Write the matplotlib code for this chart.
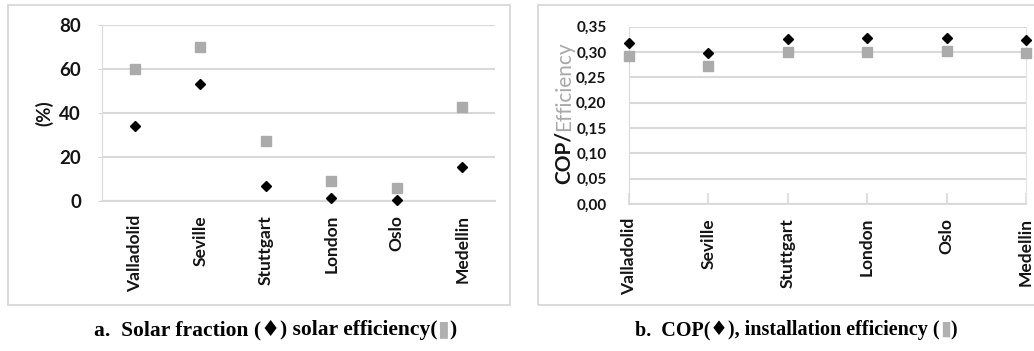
import matplotlib
matplotlib.use("Agg")
import matplotlib.pyplot as plt
from matplotlib.patches import Rectangle
from matplotlib.offsetbox import TextArea, HPacker, VPacker, AnchoredOffsetbox

cities = ["Valladolid", "Seville", "Stuttgart", "London", "Oslo", "Medellin"]
solar_fraction = [34, 53, 7, 1.2, 0.5, 15.6]
solar_efficiency = [60, 70, 27.5, 9, 5.8, 42.8]
cop = [0.318, 0.298, 0.326, 0.327, 0.327, 0.323]
install_eff = [0.292, 0.273, 0.300, 0.300, 0.302, 0.298]
left_yticks = [0, 20, 40, 60, 80]
right_yticks = [0.00, 0.05, 0.10, 0.15, 0.20, 0.25, 0.30, 0.35]

W, H = 1034, 351
fig = plt.figure(figsize=(W / 100, H / 100), dpi=100)
fig.patch.set_facecolor("white")

FONT = "Lato"
TXT = "#141414"
GRID = "#d9d9d9"
SQ = "#ababab"

def fx(px):
    return px / W

def fy(py):
    return 1 - py / H

# panel frames
fig.patches.append(Rectangle((fx(8), fy(305)), fx(510) - fx(8), fy(5) - fy(305),
                             transform=fig.transFigure, fill=False, ec="#d4d4d4", lw=1.2))
fig.patches.append(Rectangle((fx(538), fy(305)), fx(1040) - fx(538), fy(5) - fy(305),
                             transform=fig.transFigure, fill=False, ec="#d4d4d4", lw=1.2, clip_on=False))

x = list(range(len(cities)))

# ---------- left panel ----------
ax1 = fig.add_axes([fx(102), fy(201), fx(495) - fx(102), fy(25) - fy(201)])
ax1.set_xlim(-0.5, 5.5)
ax1.set_ylim(0, 80)
ax1.set_yticks(left_yticks)
ax1.set_yticklabels([str(v) for v in left_yticks], fontfamily=FONT, fontweight="bold", fontsize=13.5, color=TXT)
ax1.set_xticks(x)
ax1.set_xticklabels(cities, rotation=90, fontfamily=FONT, fontweight="bold", fontsize=12.5, color=TXT)
ax1.grid(axis="y", color=GRID, lw=1.5)
ax1.set_axisbelow(True)
for s in ["top", "right"]:
    ax1.spines[s].set_visible(False)
ax1.spines["left"].set_color(GRID)
ax1.spines["bottom"].set_color(GRID)
ax1.spines["bottom"].set_linewidth(1.5)
ax1.tick_params(axis="y", length=3, color=GRID, pad=12)
ax1.tick_params(axis="x", length=0, pad=10)
ax1.plot(x, solar_efficiency, ls="none", marker="s", ms=7, color=SQ, mec=SQ, clip_on=False, zorder=3)
ax1.plot(x, solar_fraction, ls="none", marker="D", ms=5, color="black", clip_on=False, zorder=4)
ax1.set_ylabel("(%)", fontfamily=FONT, fontweight="bold", fontsize=13.5, color=TXT, labelpad=4)

# ---------- right panel ----------
ax2 = fig.add_axes([fx(628.7), fy(204), fx(1026) - fx(628.7), fy(26.7) - fy(204)])
ax2.set_xlim(0, 5)
ax2.set_ylim(0, 0.35)
ax2.set_yticks(right_yticks)
ax2.set_yticklabels([f"{v:.2f}".replace(".", ",") for v in right_yticks],
                    fontfamily=FONT, fontweight="bold", fontsize=11, color=TXT)
ax2.set_xticks(x)
ax2.set_xticklabels(cities, rotation=90, fontfamily=FONT, fontweight="bold", fontsize=12.5, color=TXT)
ax2.grid(axis="y", color=GRID, lw=1.5)
ax2.set_axisbelow(True)
ax2.spines["top"].set_visible(False)
ax2.spines["right"].set_color("#e4e4e4")
ax2.spines["left"].set_color(GRID)
ax2.spines["bottom"].set_color(GRID)
ax2.spines["bottom"].set_linewidth(1.5)
ax2.tick_params(axis="y", length=0, pad=16)
ax2.tick_params(axis="x", direction="in", length=8, color=GRID, width=1.2, pad=10)
ax2.plot(x, install_eff, ls="none", marker="s", ms=7, color=SQ, mec=SQ, clip_on=False, zorder=3)
ax2.plot(x, cop, ls="none", marker="D", ms=5, color="black", clip_on=False, zorder=4)

# two-colour y label
lab1 = TextArea("COP/", textprops=dict(fontfamily=FONT, fontweight="bold", fontsize=15, color=TXT, rotation=90))
lab2 = TextArea("Efficiency", textprops=dict(fontfamily=FONT, fontweight="normal", fontsize=15, color="#a8a8a8", rotation=90))
vp = VPacker(children=[lab2, lab1], align="center", pad=0, sep=0)
ab = AnchoredOffsetbox(loc="center", child=vp, frameon=False,
                       bbox_to_anchor=(fx(564), fy(113)), bbox_transform=fig.transFigure, pad=0, borderpad=0)
fig.add_artist(ab)

# captions
def caption(parts, cx, cy, size):
    areas = []
    for txt, col, fam in parts:
        areas.append(TextArea(txt, textprops=dict(fontfamily=fam, fontweight="bold", fontsize=size, color=col)))
    hp = HPacker(children=areas, align="baseline", pad=0, sep=0)
    box = AnchoredOffsetbox(loc="center", child=hp, frameon=False,
                            bbox_to_anchor=(fx(cx), fy(cy)), bbox_transform=fig.transFigure, pad=0, borderpad=0)
    fig.add_artist(box)

SERIF = ["Liberation Serif", "DejaVu Serif"]
caption([("a.  Solar fraction (", "black", SERIF), ("\u2666", "black", ["DejaVu Sans"]),
         (") solar efficiency(", "black", SERIF), ("\u25AE", "#b0b0b0", ["DejaVu Sans"]), (")", "black", SERIF)],
        275, 330, 15.5)
caption([("b.  COP(", "black", SERIF), ("\u2666", "black", ["DejaVu Sans"]),
         ("), installation efficiency (", "black", SERIF), ("\u25AE", "#b0b0b0", ["DejaVu Sans"]), (")", "black", SERIF)],
        796, 330, 14.5)

fig.savefig("out.png", dpi=100, facecolor="white")
